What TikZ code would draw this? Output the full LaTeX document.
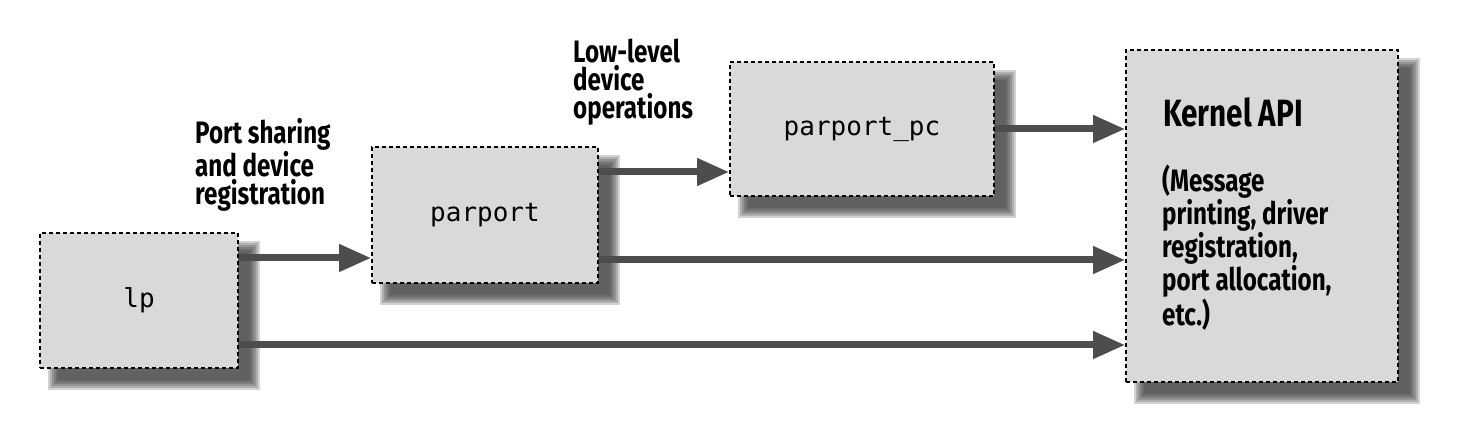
\documentclass[tikz,border=0pt]{standalone}
\usepackage{fontspec}
\setmainfont{Fira Sans}[FakeStretch=0.78]
\setmonofont{DejaVu Sans Mono}
\usetikzlibrary{arrows.meta}
\pgfdeclarelayer{bg}
\pgfsetlayers{bg,main}
\definecolor{boxgray}{HTML}{D9D9D9}
\definecolor{flowgray}{HTML}{4D4D4D}
\tikzset{
  modbox/.style={draw=black,fill=boxgray,line width=1.6pt,dash pattern=on 4pt off 3pt,
    font=\ttfamily\fontsize{26}{26}\selectfont},
  flow/.style={flowgray,line width=7pt,-{Triangle[length=32pt,width=26pt]}},
  note/.style={inner sep=0pt,align=left,anchor=north west,
    font=\bfseries\fontsize{31}{28}\selectfont}
}
% blurred shadow behind a box
\newcommand\boxshadow[1]{\begin{pgfonlayer}{bg}
  \foreach \e in {6,4,2,0,-2,-4}
    \fill[black!80,opacity=0.22]([shift={(15-\e,-15-\e)}]#1.south west)rectangle([shift={(15+\e,-15+\e)}]#1.north east);
  \end{pgfonlayer}}
\begin{document}
\begin{tikzpicture}[x=1pt,y=1pt]
\useasboundingbox(0,0)rectangle(1458,428);
\node[modbox,minimum width=198pt,minimum height=135pt](lp)at(139,127.5){lp};
\node[modbox,minimum width=226pt,minimum height=136pt](parport)at(485,213){parport};
\node[modbox,minimum width=264pt,minimum height=134pt](parportpc)at(862,299){parport\_pc};
\node[modbox,minimum width=272pt,minimum height=332pt](kernel)at(1262,212){};
\boxshadow{lp}\boxshadow{parport}\boxshadow{parportpc}\boxshadow{kernel}
\node[note](share)at(195,310){Port sharing\\and device\\registration};
\node[note](lowlevel)at(573,389){Low-level\\device\\operations};
\node[note,font=\bfseries\fontsize{38}{38}\selectfont](api)at(1163,331){Kernel API};
\node[note,font=\bfseries\fontsize{31}{27.5}\selectfont](apinote)at(1162,263){(Message\\printing, driver\\registration,\\port allocation,\\etc.)};
\draw[flow]([yshift=42.5pt]lp.east)--([yshift=42.5pt]lp.east-|parport.west);
\draw[flow]([yshift=-44.5pt]lp.east)--([yshift=-44.5pt]lp.east-|kernel.west);
\draw[flow]([yshift=43pt]parport.east)--([yshift=43pt]parport.east-|parportpc.west);
\draw[flow]([yshift=-45pt]parport.east)--([yshift=-45pt]parport.east-|kernel.west);
\draw[flow](parportpc.east)--(parportpc.east-|kernel.west);
\end{tikzpicture}
\end{document}
